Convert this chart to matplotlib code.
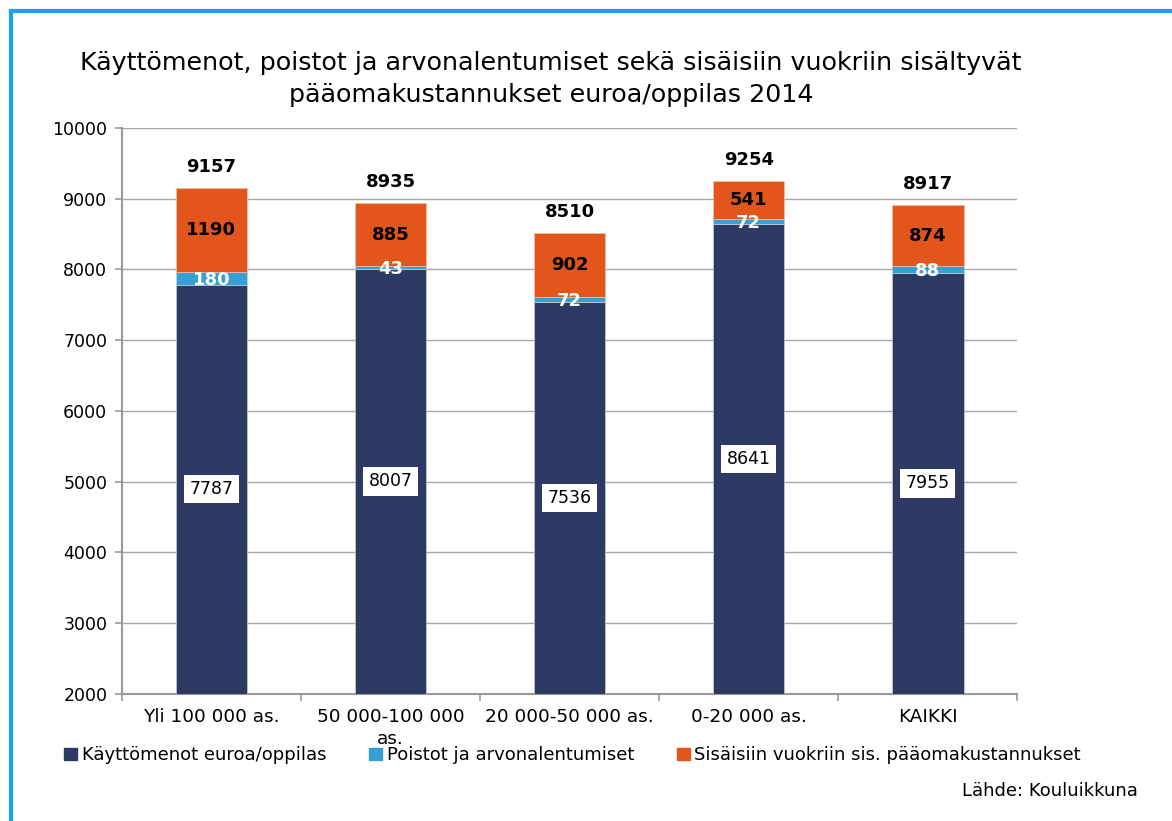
import matplotlib.pyplot as plt
import numpy as np
from matplotlib.patches import Rectangle

categories = ['Yli 100 000 as.', '50 000-100 000\nas.', '20 000-50 000 as.',
              '0-20 000 as.', 'KAIKKI']
kayttomenot = [7787, 8007, 7536, 8641, 7955]
poistot = [180, 43, 72, 72, 88]
vuokrat = [1190, 885, 902, 541, 874]
series_names = ['Käyttömenot euroa/oppilas', 'Poistot ja arvonalentumiset',
                'Sisäisiin vuokriin sis. pääomakustannukset']
colors = ['#2D3A63', '#33A1D3', '#E2561B']

plt.rcParams['font.family'] = 'DejaVu Sans'

fig = plt.figure(figsize=(11.72, 8.21), dpi=100)
ax = fig.add_axes([0.104, 0.1547, 0.764, 0.6894])

x = np.arange(len(categories))
base = np.array(kayttomenot, dtype=float)
p = np.array(poistot, dtype=float)
v = np.array(vuokrat, dtype=float)
total = base + p + v
ymin = 2000

w = 0.4
ax.bar(x, base - ymin, w, bottom=ymin, color=colors[0], edgecolor='#c8cbd6', linewidth=0.5, zorder=3)
ax.bar(x, p, w, bottom=base, color=colors[1], edgecolor='#c8cbd6', linewidth=0.5, zorder=3)
ax.bar(x, v, w, bottom=base + p, color=colors[2], edgecolor='#f3c0a8', linewidth=0.5, zorder=3)

for i in range(len(x)):
    ax.text(x[i], (ymin + base[i]) / 2, '%d' % base[i], ha='center', va='center', fontsize=12.5,
            color='black', zorder=5,
            bbox=dict(boxstyle='square,pad=0.3', facecolor='white', edgecolor='none'))
    ax.text(x[i], base[i] + p[i] / 2 - 20, '%d' % p[i], ha='center', va='center', fontsize=13,
            color='white', fontweight='bold', zorder=5)
    ax.text(x[i], base[i] + p[i] + v[i] / 2, '%d' % v[i], ha='center', va='center', fontsize=13,
            color='black', fontweight='bold', zorder=5)
    ax.text(x[i], total[i] + 170, '%d' % total[i], ha='center', va='bottom', fontsize=13,
            color='black', fontweight='bold', zorder=5)

ax.set_ylim(2000, 10000)
ax.set_xlim(-0.5, len(x) - 0.5)
ax.set_yticks(np.arange(2000, 10001, 1000))
ax.yaxis.grid(True, color='#a6a6a6', linewidth=1.0, zorder=0)
ax.set_axisbelow(True)
ax.set_xticks(x)
ax.set_xticklabels(categories, fontsize=13.3, linespacing=1.3)
ax.set_xticks(np.arange(-0.5, len(x)), minor=True)
ax.tick_params(axis='x', which='major', length=0, pad=10)
ax.tick_params(axis='x', which='minor', length=5, color='#999999', width=1.2)
ax.tick_params(axis='y', labelsize=12.5, length=5, color='#999999', width=1.2, pad=5.5)
for s in ['top', 'right']:
    ax.spines[s].set_visible(False)
for s in ['left', 'bottom']:
    ax.spines[s].set_color('#999999')
    ax.spines[s].set_linewidth(1.5)

fig.text(0.47, 0.904, 'Käyttömenot, poistot ja arvonalentumiset sekä sisäisiin vuokriin sisältyvät\n'
         'pääomakustannukset euroa/oppilas 2014', ha='center', va='center', fontsize=18.3,
         linespacing=1.45)

handles = [Rectangle((0, 0), 1, 1, color=c) for c in colors]
fig.legend(handles, series_names, loc='center left', bbox_to_anchor=(0.055, 0.080), ncol=3,
           frameon=False, fontsize=13, handlelength=0.7, handleheight=0.7, handletextpad=0.25,
           columnspacing=2.4, borderaxespad=0, borderpad=0)

fig.text(0.971, 0.037, 'Lähde: Kouluikkuna', ha='right', va='center', fontsize=13)

# frame of the chart area
fig.add_artist(plt.Line2D([0.0095, 1.0], [0.987, 0.987], color='#1AA3E8', linewidth=3))
fig.add_artist(plt.Line2D([0.0095, 0.0095], [0.0, 0.987], color='#1AA3E8', linewidth=3))

fig.savefig('out.png', dpi=100)
